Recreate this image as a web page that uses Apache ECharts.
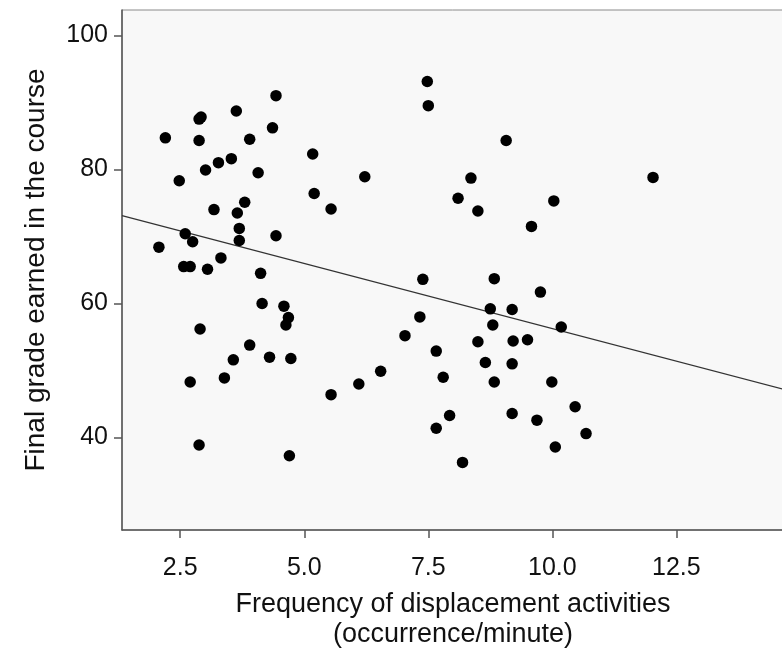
<!DOCTYPE html>
<html>
<head>
<meta charset="utf-8">
<script src="https://cdn.jsdelivr.net/npm/echarts@6/dist/echarts.min.js"></script>
<style>html,body{margin:0;padding:0;background:#fff;}#c{width:782px;height:650px;}</style>
</head>
<body>
<div id="c"></div>
<script>
var freqX = [4.43,3.63,2.88,2.92,4.36,2.20,2.88,3.90,5.17,3.53,3.27,3.01,4.07,2.48,5.20,3.80,3.18,3.65,3.69,2.60,4.43,3.69,2.75,2.07,3.32,2.57,2.70,3.05,4.12,4.15,4.59,4.68,4.63,2.90,3.90,4.30,4.73,3.57,3.39,2.70,2.88,4.70,7.48,7.50,6.22,5.54,8.36,8.10,8.50,7.39,7.33,7.03,7.66,6.54,6.10,5.54,7.80,7.93,7.66,8.19,8.50,9.07,10.03,9.58,12.03,8.83,9.76,8.75,9.19,8.80,10.18,9.21,9.50,8.65,9.19,8.83,9.99,10.46,9.19,9.69,10.68,10.06];
var gradeY = [91.0,88.7,87.5,87.8,86.2,84.7,84.3,84.5,82.3,81.6,81.0,79.9,79.5,78.3,76.4,75.1,74.0,73.5,71.2,70.4,70.1,69.4,69.2,68.4,66.8,65.5,65.5,65.1,64.5,60.0,59.6,57.9,56.8,56.2,53.8,52.0,51.8,51.6,48.9,48.3,38.9,37.3,93.1,89.5,78.9,74.1,78.7,75.7,73.8,63.6,58.0,55.2,52.9,49.9,48.0,46.4,49.0,43.3,41.4,36.3,54.3,84.3,75.3,71.5,78.8,63.7,61.7,59.2,59.1,56.8,56.5,54.4,54.6,51.2,51.0,48.3,48.3,44.6,43.6,42.6,40.6,38.6];
var fitX = [1.326, 14.67];
var fitY = [73.1, 47.2];
var xTicks = [2.5, 5.0, 7.5, 10.0, 12.5];
var yTicks = [40, 60, 80, 100];

var pts = freqX.map(function(x, i){ return [x, gradeY[i]]; });
var fitLine = fitX.map(function(x, i){ return [x, fitY[i]]; });

var chart = echarts.init(document.getElementById('c'));
var font = 'Liberation Sans, Arial, sans-serif';
chart.setOption({
  backgroundColor: '#ffffff',
  animation: false,
  grid: {left: 122, top: 10, right: -2, bottom: 120, outerBoundsMode: 'none', containLabel: false, show: true, backgroundColor: '#f8f8f8', borderColor: '#8a8a8a', borderWidth: 1},
  xAxis: {
    type: 'value', min: 1.326, max: 14.67,
    name: 'Frequency of displacement activities\n(occurrence/minute)',
    nameLocation: 'middle', nameGap: 60,
    nameTextStyle: {fontFamily: font, fontSize: 27, color: '#111', lineHeight: 30},
    axisLine: {show: true, onZero: false, lineStyle: {color: '#555', width: 1.5}},
    axisTick: {show: true, length: 8, customValues: xTicks, lineStyle: {color: '#555', width: 1.5}},
    axisLabel: {customValues: xTicks, margin: 26, fontFamily: font, fontSize: 25, color: '#111',
      formatter: function(v){ return v.toFixed(1); }},
    splitLine: {show: false}
  },
  yAxis: {
    type: 'value', min: 26.22, max: 103.77,
    name: 'Final grade earned in the course',
    nameLocation: 'middle', nameGap: 72,
    nameTextStyle: {fontFamily: font, fontSize: 28, color: '#111'},
    axisLine: {show: true, onZero: false, lineStyle: {color: '#555', width: 1.5}},
    axisTick: {show: true, length: 8, customValues: yTicks, lineStyle: {color: '#555', width: 1.5}},
    axisLabel: {customValues: yTicks, margin: 14, fontFamily: font, fontSize: 25, color: '#111'},
    splitLine: {show: false}
  },
  series: [
    {type: 'scatter', data: pts, symbolSize: 11.5, itemStyle: {color: '#000', opacity: 1}, z: 3},
    {type: 'line', data: fitLine, symbol: 'none', lineStyle: {color: '#333', width: 1.3}, z: 2}
  ]
});
</script>
</body>
</html>
